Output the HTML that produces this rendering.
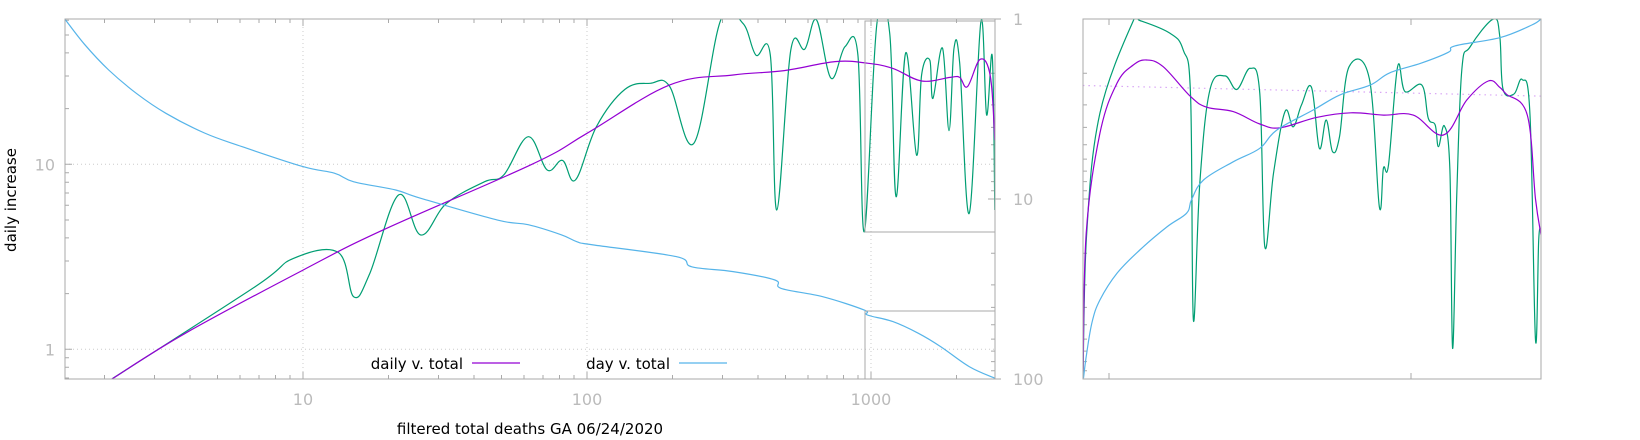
<!DOCTYPE html>
<html><head><meta charset="utf-8">
<style>
html,body{margin:0;padding:0;background:#fff;}
svg{display:block;font-family:"DejaVu Sans","Liberation Sans",sans-serif;}
</style></head>
<body>
<svg id="c" width="1640" height="440" viewBox="0 0 1640 440" xmlns="http://www.w3.org/2000/svg">
<defs>
<clipPath id="cp1"><rect x="65" y="19" width="930" height="360"/></clipPath>
<clipPath id="cp2"><rect x="1083" y="19" width="458" height="360"/></clipPath>
</defs>
<g id="grid"></g>
<g id="ticks"></g>
<g id="s1" clip-path="url(#cp1)"></g>
<g id="s2" clip-path="url(#cp2)"></g>
<rect x="65" y="19" width="930" height="360" fill="none" stroke="#aaa" stroke-width="1"/>
<rect x="1083" y="19" width="458" height="360" fill="none" stroke="#aaa" stroke-width="1"/>
<rect x="865" y="21" width="130" height="211" fill="none" stroke="#aaa" stroke-width="1"/>
<path d="M865 311 H995 M865 311 V379" fill="none" stroke="#aaa" stroke-width="1"/>
<g id="labels" fill="#bbb" font-size="16"></g>
<text x="16" y="200" transform="rotate(-90 16 200)" text-anchor="middle" font-size="15" fill="#000">daily increase</text>
<text x="530" y="434" text-anchor="middle" font-size="15" fill="#000">filtered total deaths GA 06/24/2020</text>
<g>
<g>
<text x="463" y="369" text-anchor="end" font-size="15" fill="#000">daily v. total</text>
<line x1="472" y1="363" x2="520" y2="363" stroke="#9400d3" stroke-width="1.2"/>
</g>
<g>
<text x="670" y="369" text-anchor="end" font-size="15" fill="#000">day v. total</text>
<line x1="679" y1="363" x2="727" y2="363" stroke="#56b4e9" stroke-width="1.2"/>
</g>
</g>
</svg>
<script>
// ---- main plot data ----
const dailyX = [2.12,3.85,10,19.1,64,100,195,327,495,747,971,1194,1507,1901,2052,2186,2425,2633,2729];
const dailyY = [0.69,1.22,2.68,4.41,10,14.7,26.8,30.4,32.1,35.9,35.2,33.0,28.2,29.5,29.5,26.3,37.0,29.8,13.5];
const rawX = [2.12,6.78,9.25,13.3,15.1,17.2,21.7,26.0,32.0,43.6,50.9,62.1,72.4,82.0,91.0,108,136,167,195,238,296,354,393,442,466,522,585,643,723,810,899,947,1050,1164,1226,1325,1447,1507,1611,1652,1786,1883,1960,2052,2218,2438,2553,2673,2729];
const rawY = [0.69,2.18,3.10,3.34,1.92,2.58,6.82,4.15,6.15,8.05,8.75,14.1,9.31,10.5,8.22,16.0,25.4,27.4,26.5,13.0,60.3,57.8,39.0,39.0,5.66,41.5,42,60.3,29.2,43.2,39,4.32,58.2,51.1,6.68,40,11.2,30.4,36.6,22.7,42.4,15.2,42.4,35.2,5.43,59.0,18.5,38.2,5.66];
const dayX = [1.45,1.7,2.07,2.6,3.29,4.5,6.11,10,12.9,15.1,21.2,26.0,48.4,62.1,81.2,92.3,105,206,234,327,459,483,676,947,971,1194,1469,1759,2218,2729];
const dayY = [1,1.38,1.92,2.6,3.34,4.3,5.12,6.61,7.19,8.02,8.91,9.91,13.1,13.9,15.8,17.3,18.0,20.9,23.8,25.3,28.2,31.4,34.9,41.4,44.1,48.0,55.7,66.1,85.3,99];
// ---- right panel data (x = percent of span, y on inverted log axis 1..100) ----
const p2RawT = [0,0.8,3.7,11,12.4,19,21.9,23.5,24.1,25.5,27.7,31,33.6,36.5,38.6,39.7,41.6,44.1,45.9,47.7,49.9,51.6,53.1,54.5,56,58.1,62.5,64.7,65.6,66.7,68.7,70.3,74,75.4,76.9,77.6,78.9,80.1,80.7,81.6,82.7,84.5,89.6,91,91.7,94.1,95.9,97.6,98.8,99.5,100];
const p2RawV = [99,15.5,3.34,1.02,1.02,1.20,1.49,2.70,47,8.18,2.48,2.07,2.46,1.88,2.59,18.4,7.20,3.27,3.97,3.0,2.40,5.23,3.64,5.46,4.51,1.84,2.14,11.0,6.75,6.47,1.84,2.53,2.33,3.56,3.88,5.12,3.93,6.90,67.5,9.70,1.92,1.43,1.0,1.25,2.45,2.61,2.17,3.42,60.7,16.9,15];
const p2DailyT = [0,0.7,3.7,7.4,11,13.9,17.5,23.5,27,32.8,38.6,43,51,58.5,65.6,72.1,78.7,83.8,88.5,91,92.4,97,98.8,100];
const p2DailyV = [99,15.5,4.32,2.28,1.80,1.69,1.84,2.70,3.09,3.27,3.83,4.02,3.52,3.32,3.42,3.42,4.41,2.82,2.21,2.40,2.61,3.42,10,15.8];
const p2DayT = [0.1,0.8,2,3.7,7.4,12.4,18.3,22.6,23.7,26.3,32.8,38.6,42.3,50.3,56.1,62.7,67,73.8,79.8,81.2,91,98,100];
const p2DayV = [99,72,48,36.4,25.9,19.2,14.3,12.0,10.1,7.84,6.21,5.23,4.14,3.20,2.64,2.33,1.99,1.76,1.53,1.41,1.27,1.08,1.0];
const refT = [0,100];
const refV = [2.34,2.68];

const L = Math.log10;
const xm = v => 65 + (L(v) - 0.162) * 284;
const ym = v => 349.3 - L(v) * 185;
const yr = d => 19 + L(d) * 180;
const x2 = t => 1083 + t * 4.58;
const NS = 'http://www.w3.org/2000/svg';

function pathFrom(xs, ys, fx, fy){
  const P = xs.map((v,i)=>[fx(v), fy(ys[i])]);
  let d = 'M' + P[0][0].toFixed(1) + ' ' + P[0][1].toFixed(1);
  const k = 0.18;
  for (let i = 0; i < P.length-1; i++){
    const p0 = P[Math.max(0,i-1)], p1 = P[i], p2 = P[i+1], p3 = P[Math.min(P.length-1,i+2)];
    const c1x = p1[0] + (p2[0]-p0[0])*k, c1y = p1[1] + (p2[1]-p0[1])*k;
    const c2x = p2[0] - (p3[0]-p1[0])*k, c2y = p2[1] - (p3[1]-p1[1])*k;
    d += `C${c1x.toFixed(1)} ${c1y.toFixed(1)} ${c2x.toFixed(1)} ${c2y.toFixed(1)} ${p2[0].toFixed(1)} ${p2[1].toFixed(1)}`;
  }
  return d;
}
function addPath(g, d, color, name, extra){
  const p = document.createElementNS(NS, 'path');
  p.setAttribute('d', d);
  p.setAttribute('fill', 'none');
  p.setAttribute('stroke', color);
  p.setAttribute('stroke-width', '1.2');
  p.setAttribute('stroke-linejoin', 'round');
  if (extra) p.setAttribute('stroke-dasharray', extra);
  
  
  g.appendChild(p);
}
const s1 = document.getElementById('s1');
addPath(s1, pathFrom(rawX, rawY, xm, ym), '#009e73', 'raw-daily-line');
addPath(s1, pathFrom(dailyX, dailyY, xm, ym), '#9400d3', 'daily-v-total-line');
addPath(s1, pathFrom(dayX, dayY, xm, yr), '#56b4e9', 'day-v-total-line');
const s2 = document.getElementById('s2');
addPath(s2, pathFrom(refT, refV, x2, yr), '#d9a6f5', 'reference-dotted-line', '1.5 4');
addPath(s2, pathFrom(p2RawT, p2RawV, x2, yr), '#009e73', 'panel-raw-line');
addPath(s2, pathFrom(p2DailyT, p2DailyV, x2, yr), '#9400d3', 'panel-daily-line');
addPath(s2, pathFrom(p2DayT, p2DayV, x2, yr), '#56b4e9', 'panel-day-line');

// grid
const grid = document.getElementById('grid');
function gl(x1,y1,xx,yy){
  const l = document.createElementNS(NS,'line');
  l.setAttribute('x1',x1);l.setAttribute('y1',y1);l.setAttribute('x2',xx);l.setAttribute('y2',yy);
  l.setAttribute('stroke','#ccc');l.setAttribute('stroke-dasharray','1 3');
  
  
  grid.appendChild(l);
}
[10,100,1000].forEach(v=>gl(xm(v),19,xm(v),379));
[1,10].forEach(v=>gl(65,ym(v),995,ym(v)));

// ticks
const tk = document.getElementById('ticks');
let td = '';
for (let e=0;e<=3;e++) for (let m=1;m<=9;m++){
  const v = m*Math.pow(10,e), x = xm(v);
  if (x<65||x>995) continue;
  const len = m===1?7:4;
  td += `M${x.toFixed(1)} 379v-${len}M${x.toFixed(1)} 19v${len}`;
}
for (let e=-1;e<=1;e++) for (let m=1;m<=9;m++){
  const v=m*Math.pow(10,e), y=ym(v);
  if (y<19||y>379) continue;
  td += `M65 ${y.toFixed(1)}h${m===1?7:4}`;
}
for (let e=0;e<=1;e++) for (let m=1;m<=9;m++){
  const v=m*Math.pow(10,e), y=yr(v);
  td += `M995 ${y.toFixed(1)}h-${m===1?7:4}M995 ${y.toFixed(1)}h${m===1?6:0}`;
  td += `M1083 ${y.toFixed(1)}h${m===1?7:4}`;
}
td += 'M995 379h6M1109 379v-6M1411 379v-6M1109 19v6M1411 19v6';
const tp = document.createElementNS(NS,'path');
tp.setAttribute('d',td);tp.setAttribute('stroke','#aaa');tp.setAttribute('fill','none');


tk.appendChild(tp);

// labels
const lab = document.getElementById('labels');
function txt(x,y,s,anchor,name){
  const t=document.createElementNS(NS,'text');
  t.setAttribute('x',x);t.setAttribute('y',y);t.setAttribute('text-anchor',anchor);
  t.textContent=s;
  
  
  lab.appendChild(t);
}
const xTicks=[10,100,1000], xTickLabels=['10','100','1000'];
xTicks.forEach((v,i)=>txt(xm(v),405,xTickLabels[i],'middle','x-tick-label'));
const yTicks=[1,10], yTickLabels=['1','10'];
yTicks.forEach((v,i)=>txt(55,ym(v)+6,yTickLabels[i],'end','y-tick-label'));
const rTicks=[1,10,100], rTickLabels=['1','10','100'];
rTicks.forEach((v,i)=>txt(1013,yr(v)+6,rTickLabels[i],'start','y2-tick-label'));
</script>
</body></html>
